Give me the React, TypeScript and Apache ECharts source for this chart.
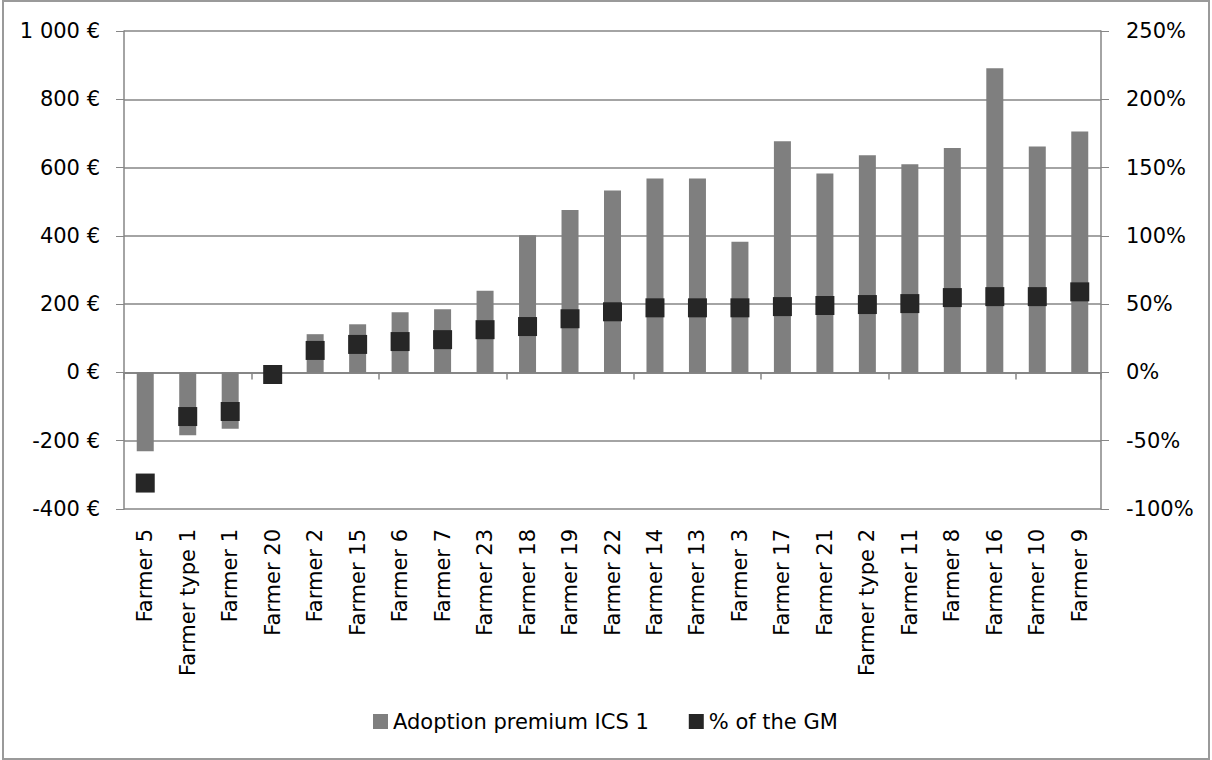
import React, { useEffect, useRef } from "react";
import * as echarts from "echarts";

const categories = [
  "Farmer 5", "Farmer type 1", "Farmer 1", "Farmer 20", "Farmer 2", "Farmer 15",
  "Farmer 6", "Farmer 7", "Farmer 23", "Farmer 18", "Farmer 19", "Farmer 22",
  "Farmer 14", "Farmer 13", "Farmer 3", "Farmer 17", "Farmer 21", "Farmer type 2",
  "Farmer 11", "Farmer 8", "Farmer 16", "Farmer 10", "Farmer 9",
];

const adoptionPremium = [
  -231, -184, -165, -4, 112, 141, 176, 185, 239, 402, 476, 533,
  568, 568, 383, 677, 583, 636, 610, 657, 891, 662, 706,
];

const percentOfGM = [
  -81, -32.3, -28.6, -1.5, 16.1, 20.5, 22.6, 24, 31.3, 33.6, 39.3, 44.4,
  47.3, 47.3, 47.3, 48.2, 49, 49.7, 50.4, 54.8, 55.5, 55.5, 59,
];

const leftTicks = { min: -400, max: 1000, interval: 200 };
const rightTicks = { min: -100, max: 250, interval: 50 };

const FONT = "DejaVu Sans";
const GRID_COLOR = "#868686";

function euro(v: number): string {
  const s = String(Math.abs(v)).replace(/\B(?=(\d{3})+(?!\d))/g, " ");
  return (v < 0 ? "-" : "") + s + " €";
}

export default function App() {
  const ref = useRef<HTMLDivElement>(null);

  useEffect(() => {
    if (!ref.current) return;
    const chart = echarts.init(ref.current, undefined, { renderer: "svg" });
    chart.setOption({
      animation: false,
      backgroundColor: "#ffffff",
      textStyle: { fontFamily: FONT },
      graphic: [
        {
          type: "rect",
          shape: { x: 3, y: 1, width: 1206, height: 758 },
          style: { fill: "none", stroke: "#9a9a9a", lineWidth: 2 },
          silent: true,
        },
      ],
      grid: { left: 124, right: 111, top: 31, bottom: 251, containLabel: false },
      legend: {
        top: 706,
        left: 368,
        icon: "rect",
        itemWidth: 15,
        itemHeight: 15,
        itemGap: 40,
        textStyle: { fontFamily: FONT, fontSize: 21, color: "#000" },
        data: ["Adoption premium ICS 1", "% of the GM"],
      },
      xAxis: [
        {
          type: "category",
          data: categories,
          position: "bottom",
          axisLine: { show: false, onZero: false },
          axisTick: { show: false },
          axisLabel: {
            rotate: 90,
            interval: 0,
            margin: 20,
            fontSize: 21,
            fontFamily: FONT,
            color: "#000",
          },
          splitLine: { show: false },
        },
        {
          type: "category",
          data: categories,
          position: "top",
          axisLine: { show: true, onZero: true, lineStyle: { color: GRID_COLOR, width: 2 } },
          axisTick: { show: true, inside: true, length: 7, lineStyle: { color: GRID_COLOR, width: 1.5 } },
          axisLabel: { show: false },
          splitLine: { show: false },
        },
      ],
      yAxis: [
        {
          type: "value",
          position: "left",
          min: leftTicks.min,
          max: leftTicks.max,
          interval: leftTicks.interval,
          axisLine: { show: true, onZero: false, lineStyle: { color: GRID_COLOR, width: 1.5 } },
          axisTick: { show: true, length: 8, lineStyle: { color: GRID_COLOR } },
          axisLabel: {
            margin: 24,
            fontSize: 21,
            fontFamily: FONT,
            color: "#000",
            formatter: (v: number) => euro(v),
          },
          splitLine: { show: true, lineStyle: { color: GRID_COLOR, width: 1.5 } },
        },
        {
          type: "value",
          position: "right",
          min: rightTicks.min,
          max: rightTicks.max,
          interval: rightTicks.interval,
          axisLine: { show: true, onZero: false, lineStyle: { color: GRID_COLOR, width: 1.5 } },
          axisTick: { show: true, length: 8, lineStyle: { color: GRID_COLOR } },
          axisLabel: {
            margin: 25,
            fontSize: 21,
            fontFamily: FONT,
            color: "#000",
            formatter: "{value}%",
          },
          splitLine: { show: false },
        },
      ],
      series: [
        {
          name: "Adoption premium ICS 1",
          type: "bar",
          xAxisIndex: 0,
          yAxisIndex: 0,
          data: adoptionPremium,
          barWidth: 17,
          itemStyle: { color: "#7f7f7f" },
          z: 2,
        },
        {
          name: "% of the GM",
          type: "scatter",
          xAxisIndex: 0,
          yAxisIndex: 1,
          data: percentOfGM,
          symbol: "rect",
          symbolSize: 19,
          itemStyle: { color: "#262626", opacity: 1 },
          z: 5,
        },
      ],
    });
    return () => chart.dispose();
  }, []);

  return (
    <div
      ref={ref}
      style={{ position: "fixed", left: 0, top: 0, width: 1212, height: 760, background: "#fff" }}
    />
  );
}
